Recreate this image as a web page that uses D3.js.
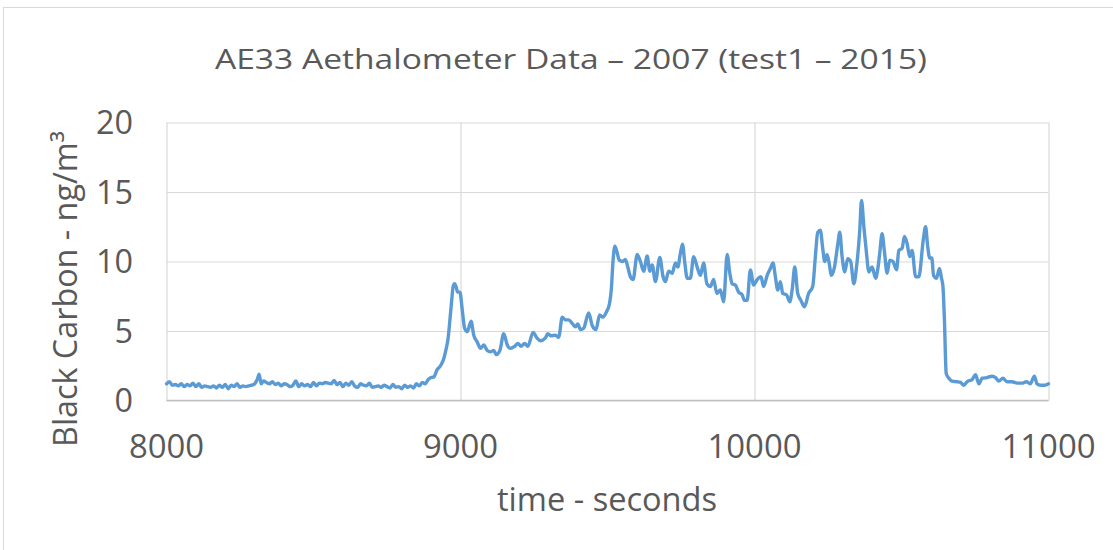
<!DOCTYPE html>
<html>
<head>
<meta charset="utf-8">
<script src="https://cdn.jsdelivr.net/npm/d3@7"></script>
<style>
  html, body { margin: 0; padding: 0; background: #fff; }
  svg { display: block; }
  text { font-family: "Open Sans", "Noto Sans", sans-serif; fill: #595959; }
</style>
</head>
<body>
<svg id="chart" width="1113" height="550"></svg>
<script>
const titleText = "AE33 Aethalometer Data \u2013 2007 (test1 \u2013 2015)";
const xAxisTitle = "time - seconds";
const yAxisTitle = "Black Carbon - ng/m\u00B3";
const xTicks = [8000, 9000, 10000, 11000];
const yTicks = [0, 5, 10, 15, 20];

const times = [
  8000, 8010, 8020, 8030, 8040, 8050, 8060, 8070, 8080, 8090,
  8100, 8110, 8120, 8130, 8140, 8150, 8160, 8170, 8180, 8190,
  8200, 8210, 8220, 8230, 8240, 8250, 8260, 8270, 8280, 8290,
  8300, 8310, 8315, 8322, 8330, 8340, 8350, 8360, 8370, 8380,
  8390, 8400, 8410, 8420, 8430, 8440, 8450, 8460, 8470, 8480,
  8490, 8500, 8510, 8520, 8530, 8540, 8550, 8560, 8570, 8580,
  8590, 8600, 8610, 8620, 8630, 8640, 8650, 8660, 8670, 8680,
  8690, 8700, 8710, 8720, 8730, 8740, 8750, 8760, 8770, 8780,
  8790, 8800, 8810, 8820, 8830, 8840, 8850, 8860, 8870, 8880,
  8890, 8900, 8910, 8920, 8932, 8943, 8950, 8958, 8964, 8970,
  8975, 8980, 8986, 8990, 8998, 9006, 9014, 9023, 9036, 9045,
  9057, 9068, 9079, 9091, 9102, 9113, 9122, 9134, 9147, 9159,
  9170, 9184, 9195, 9206, 9218, 9229, 9247, 9260, 9272, 9289,
  9297, 9308, 9323, 9334, 9346, 9357, 9368, 9380, 9391, 9399,
  9408, 9419, 9436, 9448, 9461, 9473, 9484, 9497, 9507, 9513,
  9519, 9525, 9532, 9540, 9552, 9561, 9569, 9578, 9587, 9601,
  9612, 9623, 9635, 9644, 9652, 9663, 9678, 9689, 9697, 9708,
  9720, 9731, 9739, 9748, 9755, 9763, 9771, 9782, 9793, 9805,
  9816, 9827, 9838, 9850, 9861, 9872, 9884, 9895, 9907, 9916,
  9924, 9935, 9946, 9958, 9966, 9975, 9986, 9997, 10009, 10022,
  10031, 10043, 10054, 10063, 10071, 10079, 10088, 10096, 10109, 10120,
  10128, 10137, 10147, 10158, 10170, 10184, 10198, 10207, 10215, 10224,
  10232, 10239, 10247, 10255, 10261, 10272, 10283, 10290, 10298, 10307,
  10317, 10327, 10338, 10347, 10358, 10364, 10372, 10380, 10389, 10400,
  10412, 10419, 10426, 10434, 10442, 10451, 10460, 10471, 10483, 10491,
  10502, 10510, 10519, 10528, 10536, 10548, 10559, 10574, 10582, 10589,
  10596, 10603, 10609, 10619, 10629, 10636, 10641, 10646, 10652, 10661,
  10672, 10689, 10701, 10712, 10723, 10740, 10752, 10763, 10774, 10791,
  10808, 10820, 10831, 10845, 10859, 10876, 10893, 10910, 10925, 10938,
  10952, 10961, 10973, 10987, 11000
];

const values = [
  1.2, 1.35, 1.1, 1.15, 1.05, 1.2, 1.0, 1.15, 1.05, 1.25,
  1.0, 1.2, 0.95, 1.05, 1.0, 0.95, 1.05, 0.9, 1.1, 0.95,
  1.15, 0.85, 1.1, 1.0, 1.2, 0.95, 1.05, 1.0, 1.05, 1.1,
  1.2, 1.6, 1.9, 1.2, 1.4, 1.3, 1.2, 1.35, 1.15, 1.25,
  1.05, 1.2, 1.15, 1.0, 1.1, 1.4, 1.0, 1.2, 1.05, 1.15,
  1.0, 1.3, 1.05, 1.25, 1.2, 1.3, 1.25, 1.2, 1.45, 1.15,
  1.3, 1.0, 1.25, 1.1, 1.35, 1.05, 0.95, 1.2, 1.1, 1.05,
  1.25, 0.95, 1.0, 1.05, 0.95, 1.1, 1.0, 0.9, 1.15, 0.95,
  1.0, 0.85, 1.1, 0.95, 1.05, 0.9, 1.2, 1.05, 1.3, 1.2,
  1.5, 1.65, 1.7, 2.2, 2.5, 3.0, 3.6, 4.5, 5.8, 7.2,
  8.2, 8.4, 8.1, 7.8, 7.8, 6.5, 5.2, 4.95, 5.7, 4.7,
  4.2, 3.75, 4.0, 3.6, 3.5, 3.6, 3.3, 3.6, 4.8, 4.0,
  3.75, 3.9, 4.1, 3.9, 4.1, 3.9, 4.9, 4.5, 4.3, 4.5,
  4.8, 4.65, 4.7, 4.55, 6.0, 5.8, 5.8, 5.55, 5.3, 5.5,
  5.1, 5.2, 6.3, 5.4, 5.1, 6.15, 6.0, 6.4, 7.0, 8.0,
  10.1, 11.1, 10.7, 10.1, 10.0, 10.15, 9.6, 8.9, 8.7, 10.5,
  10.0, 9.3, 10.4, 9.3, 9.75, 8.55, 10.3, 8.9, 8.55, 9.3,
  9.15, 9.9, 9.6, 10.6, 11.25, 9.9, 8.8, 8.8, 10.35, 9.6,
  9.0, 9.9, 8.4, 8.2, 8.7, 7.7, 7.95, 7.1, 10.5, 9.15,
  8.4, 8.3, 7.8, 7.6, 7.2, 7.2, 9.4, 8.3, 8.7, 8.9,
  8.2, 9.0, 9.5, 9.9, 8.9, 7.95, 8.55, 7.7, 7.6, 7.1,
  7.95, 9.6, 7.7, 7.2, 6.75, 7.7, 8.2, 10.35, 12.1, 12.25,
  10.95, 10.0, 10.5, 9.75, 9.0, 9.6, 11.2, 12.1, 10.35, 9.25,
  10.2, 10.0, 8.4, 9.6, 12.25, 14.4, 12.5, 10.8, 9.25, 9.6,
  8.8, 9.4, 10.6, 12.0, 10.7, 9.15, 10.1, 10.0, 9.4, 10.8,
  10.95, 11.8, 11.3, 10.35, 10.8, 8.9, 8.9, 11.55, 12.5, 11.1,
  10.25, 10.25, 9.0, 8.8, 9.5, 8.8, 8.2, 5.8, 1.95, 1.6,
  1.4, 1.35, 1.3, 1.1, 1.35, 1.5, 1.85, 1.2, 1.6, 1.65,
  1.75, 1.65, 1.4, 1.6, 1.35, 1.35, 1.25, 1.25, 1.35, 1.2,
  1.75, 1.2, 1.1, 1.1, 1.2
];

const data = times.map((t, i) => ({ t, v: values[i] }));

const svg = d3.select("#chart");

// outer chart border
svg.append("rect")
  .attr("x", 3.5).attr("y", 7.5)
  .attr("width", 1120).attr("height", 560)
  .attr("fill", "none").attr("stroke", "#D9D9D9").attr("stroke-width", 1);

const x = d3.scaleLinear().domain([8000, 11000]).range([166.5, 1048.5]);
const y = d3.scaleLinear().domain([0, 20]).range([400.5, 122.5]);

// horizontal gridlines
svg.append("g")
  .attr("transform", `translate(${x(8000)},0)`)
  .call(d3.axisLeft(y).tickValues(yTicks).tickSize(-(x(11000) - x(8000))).tickFormat(""))
  .call(g => g.select(".domain").remove())
  .call(g => g.selectAll(".tick line").attr("stroke", "#D9D9D9").attr("stroke-width", 1.2));

// vertical gridlines
svg.append("g")
  .attr("transform", `translate(0,${y(0)})`)
  .call(d3.axisBottom(x).tickValues(xTicks).tickSize(-(y(0) - y(20))).tickFormat(""))
  .call(g => g.select(".domain").remove())
  .call(g => g.selectAll(".tick line").attr("stroke", "#D9D9D9").attr("stroke-width", 1.2));

// bottom axis line
svg.append("line")
  .attr("x1", x(8000)).attr("x2", x(11000))
  .attr("y1", y(0)).attr("y2", y(0))
  .attr("stroke", "#BFBFBF").attr("stroke-width", 1.6);

// data line
const line = d3.line()
  .x(d => x(d.t)).y(d => y(d.v))
  .curve(d3.curveMonotoneX);

svg.append("path")
  .datum(data)
  .attr("d", line)
  .attr("fill", "none")
  .attr("stroke", "#5B9BD5")
  .attr("stroke-width", 3.4)
  .attr("stroke-linejoin", "round")
  .attr("stroke-linecap", "round");

// y tick labels
svg.append("g").selectAll("text")
  .data(yTicks).join("text")
  .attr("x", 133)
  .attr("y", d => y(d) + 11.5)
  .attr("text-anchor", "end")
  .attr("font-size", 32)
  .attr("textLength", d => String(d).length * 18.5)
  .attr("lengthAdjust", "spacingAndGlyphs")
  .text(d => d);

// x tick labels
svg.append("g").selectAll("text")
  .data(xTicks).join("text")
  .attr("x", d => x(d))
  .attr("y", 458)
  .attr("text-anchor", "middle")
  .attr("font-size", 32)
  .attr("textLength", d => String(d).length * 18.8)
  .attr("lengthAdjust", "spacingAndGlyphs")
  .text(d => d);

// title
svg.append("text")
  .attr("x", 571).attr("y", 69)
  .attr("text-anchor", "middle")
  .attr("font-size", 28)
  .attr("textLength", 712)
  .attr("lengthAdjust", "spacingAndGlyphs")
  .text(titleText);

// x axis title
svg.append("text")
  .attr("x", 607).attr("y", 511)
  .attr("text-anchor", "middle")
  .attr("font-size", 32)
  .attr("textLength", 220)
  .attr("lengthAdjust", "spacingAndGlyphs")
  .text(xAxisTitle);

// y axis title
svg.append("text")
  .attr("transform", "translate(77,289) rotate(-90)")
  .attr("text-anchor", "middle")
  .attr("font-size", 32)
  .attr("textLength", 316)
  .attr("lengthAdjust", "spacingAndGlyphs")
  .text(yAxisTitle);
</script>
</body>
</html>
